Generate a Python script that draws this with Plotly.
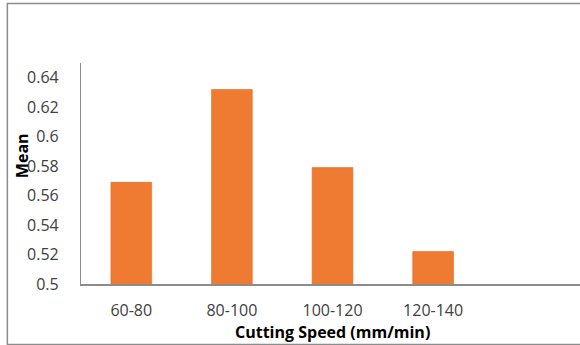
import plotly.graph_objects as go

# Mean response for each cutting-speed band
speed_bands = ["60-80", "80-100", "100-120", "120-140"]
mean_values = [0.569, 0.632, 0.579, 0.522]

y_ticks = [0.5, 0.52, 0.54, 0.56, 0.58, 0.6, 0.62, 0.64]
y_tick_text = ["0.5", "0.52", "0.54", "0.56", "0.58", "0.6", "0.62", "0.64"]

bar_color = "#EF7A31"
axis_gray = "#8C8C8C"
text_gray = "#404040"
font_family = "'Open Sans', Lato, sans-serif"

fig = go.Figure()
fig.add_trace(go.Bar(
    x=speed_bands,
    y=mean_values,
    base=0,
    width=0.405,
    marker=dict(color=bar_color, line=dict(color="#E06A20", width=0.6)),
    hoverinfo="x+y",
))

fig.update_layout(
    width=580,
    height=345,
    margin=dict(l=81, r=0, t=63, b=61),
    paper_bgcolor="white",
    plot_bgcolor="white",
    showlegend=False,
    font=dict(family=font_family, color=text_gray, size=16),
    xaxis=dict(
        type="category",
        range=[-0.5, 4.46],
        showline=True,
        linecolor=axis_gray,
        linewidth=1.5,
        showgrid=False,
        ticks="",
        ticklabelstandoff=11,
        tickfont=dict(size=16, color=text_gray),
        zeroline=False,
    ),
    yaxis=dict(
        range=[0.5, 0.65],
        tickvals=y_ticks,
        ticktext=y_tick_text,
        showline=True,
        linecolor=axis_gray,
        linewidth=1.2,
        showgrid=False,
        ticks="",
        ticklabelstandoff=18,
        tickfont=dict(size=16, color=text_gray),
        zeroline=False,
    ),
    annotations=[
        dict(text="<b>Cutting Speed (mm/min)</b>", xref="paper", yref="paper",
             x=0.504, y=-0.218, xanchor="center", yanchor="middle",
             showarrow=False, font=dict(size=16, color="black", family=font_family)),
        dict(text="<b>Mean</b>", xref="paper", yref="paper",
             x=-0.118, y=0.579, xanchor="center", yanchor="middle", textangle=-90,
             showarrow=False, font=dict(size=16, color="black", family=font_family)),
    ],
    shapes=[
        dict(type="rect", xref="paper", yref="paper",
             x0=-0.1476, x1=1.02, y0=-0.2736, y1=1.269,
             line=dict(color=axis_gray, width=1.5), fillcolor="rgba(0,0,0,0)",
             layer="below"),
    ],
)

fig.write_html("out.html")
